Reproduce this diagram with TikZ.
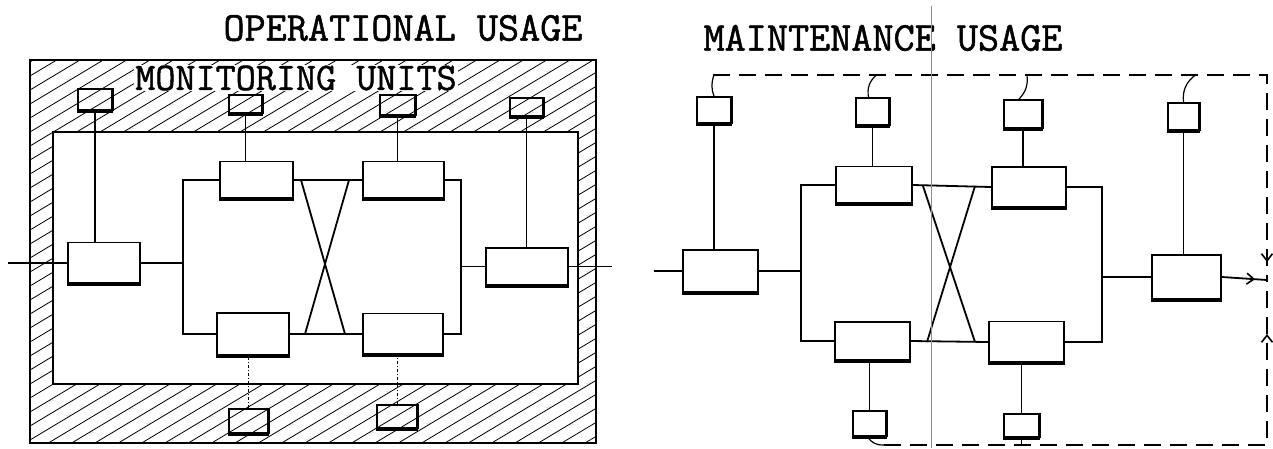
\documentclass[tikz,border=0pt]{standalone}
\usepackage{fontspec}
\newfontfamily\typewr[FakeBold=1.2]{Latin Modern Mono}
\usetikzlibrary{arrows.meta, decorations.markings}

\tikzset{
  blk/.style={draw, line width=1.8pt, inner sep=0pt},
  wire/.style={line width=1.8pt},
  tap/.style={line width=1.2pt},
  probe/.style={line width=1pt, dash dot},
  bus/.style={line width=2.4pt, dash pattern=on 17pt off 9pt},
  hatch/.style={line width=0.8pt},
  heading/.style={font=\typewr\fontsize{41}{41}\selectfont, inner sep=0pt},
  tipmark/.style={postaction={decorate}, decoration={markings,
      mark=at position #1 with {\arrow[line width=1.6pt]{Straight Barb[length=7pt,width=11pt]}}}},
}

\begin{document}
\begin{tikzpicture}[x=1pt, y=-1pt]
        \useasboundingbox (0,0) rectangle (1273,448);
%	operational usage: hatched casing
        \begin{scope}[even odd rule]
          \clip (30,60) rectangle (596,443) (53,132) rectangle (578,384);
          \foreach \c in {40,54,...,800}
            \draw[hatch] (20,\c) -- (610,\c-354);
        \end{scope}
        \draw[line width=2pt] (30,60) rectangle (596,443);
        \draw[line width=2pt] (53,132) rectangle (578,384);

        \node[heading] (opT) at (403,28) {OPERATIONAL USAGE};
        \node[heading, font=\typewr\fontsize{39}{39}\selectfont, fill=white, inner sep=1pt] (monT) at (296,78) {MONITORING UNITS};
        \node[heading] (mtT) at (883,38) {MAINTENANCE USAGE};

%	operational usage: blocks
        \node[blk, minimum width=72pt, minimum height=41pt] (inL) at (104,263) {};
        \node[blk, minimum width=73pt, minimum height=37pt] (ulL) at (256.5,180) {};
        \node[blk, minimum width=81pt, minimum height=37pt] (urL) at (403.5,180) {};
        \node[blk, minimum width=72pt, minimum height=42pt] (llL) at (253,334) {};
        \node[blk, minimum width=80pt, minimum height=41pt] (lrL) at (403,334) {};
        \node[blk, minimum width=82pt, minimum height=37pt] (outL) at (527,266.5) {};
        \node[blk, minimum width=34pt, minimum height=21pt] (m1L) at (95,99.5) {};
        \node[blk, minimum width=33pt, minimum height=18pt] (m2L) at (245.5,104) {};
        \node[blk, minimum width=35pt, minimum height=20pt] (m3L) at (397.5,105) {};
        \node[blk, minimum width=33pt, minimum height=18pt] (m4L) at (526.5,107) {};
        \node[blk, minimum width=39pt, minimum height=24pt] (m5L) at (248.5,421) {};
        \node[blk, minimum width=40pt, minimum height=23pt] (m6L) at (397,416.5) {};

        \coordinate (jLL) at (183,0);
        \coordinate (jRL) at (461,0);
        \coordinate (srcL) at (8,263);
        \coordinate (dstL) at (612,266.5);
        \coordinate (xaL) at (301,180);
        \coordinate (xbL) at (349,180);
        \coordinate (xcL) at (305,334);
        \coordinate (xdL) at (345,334);

        \draw[wire] (srcL) -- (inL.west);
        \draw[wire] (inL.east) -- (inL.east -| jLL);
        \draw[wire] (ulL.west) -- (ulL.west -| jLL) -- (jLL |- llL.west) -- (llL.west);
        \draw[wire] (urL.east) -- (urL.east -| jRL) -- (jRL |- lrL.east) -- (lrL.east);
        \draw[wire] (jRL |- outL.west) -- (outL.west);
        \draw[wire] (outL.east) -- (dstL);
        \draw[wire] (ulL.east) -- (urL.west);
        \draw[wire] (llL.east) -- (lrL.west);
        \draw[wire] (xaL) -- (xdL) (xbL) -- (xcL);
        \draw[tap] (m1L.south) -- (m1L.south |- inL.north);
        \draw[tap] (m2L.south) -- (m2L.south |- ulL.north);
        \draw[tap] (m3L.south) -- (m3L.south |- urL.north);
        \draw[tap] (m4L.south) -- (m4L.south |- outL.north);
        \draw[probe] (m5L.north) -- (m5L.north |- llL.south);
        \draw[probe] (m6L.north) -- (m6L.north |- lrL.south);

%	maintenance usage: blocks
        \node[blk, minimum width=75pt, minimum height=42pt] (inR) at (720.5,271) {};
        \node[blk, minimum width=76pt, minimum height=37pt] (ulR) at (874,185) {};
        \node[blk, minimum width=74pt, minimum height=40pt] (urR) at (1029,187) {};
        \node[blk, minimum width=75pt, minimum height=38pt] (llR) at (872.5,341) {};
        \node[blk, minimum width=75pt, minimum height=41pt] (lrR) at (1026.5,342) {};
        \node[blk, minimum width=69pt, minimum height=44pt] (outR) at (1186.5,277) {};
        \node[blk, minimum width=34pt, minimum height=26pt] (m1R) at (714,110) {};
        \node[blk, minimum width=33pt, minimum height=27pt] (m2R) at (872.5,111.5) {};
        \node[blk, minimum width=38pt, minimum height=28pt] (m3R) at (1023,114) {};
        \node[blk, minimum width=31pt, minimum height=27pt] (m4R) at (1183.5,116.5) {};
        \node[blk, minimum width=33pt, minimum height=25pt] (m5R) at (869.5,423.5) {};
        \node[blk, minimum width=35pt, minimum height=23pt] (m6R) at (1021.5,425.5) {};

        \coordinate (jLR) at (801,0);
        \coordinate (jRR) at (1102,0);
        \coordinate (srcR) at (654,271);
        \coordinate (xaR) at (923,186);
        \coordinate (xbR) at (975,186);
        \coordinate (xcR) at (927,342);
        \coordinate (xdR) at (975,342);
        \coordinate (busTL) at (713,75);
        \coordinate (busTR) at (1267,75);
        \coordinate (busBL) at (884,445);
        \coordinate (busBR) at (1267,445);
        \coordinate (busOut) at (1267,280);

        \draw[wire] (srcR) -- (inR.west);
        \draw[wire] (inR.east) -- (inR.east -| jLR);
        \draw[wire] (ulR.west) -- (ulR.west -| jLR) -- (jLR |- llR.west) -- (llR.west);
        \draw[wire] (urR.east) -- (urR.east -| jRR) -- (jRR |- lrR.east) -- (lrR.east);
        \draw[wire] (jRR |- outR.west) -- (outR.west);
        \draw[wire] (ulR.east) -- (urR.west);
        \draw[wire] (llR.east) -- (lrR.west);
        \draw[wire] (xaR) -- (xdR) (xbR) -- (xcR);
        \draw[wire, tipmark=-12pt] (outR.east) -- (busOut);
        \draw[tap] (m1R.south) -- (m1R.south |- inR.north);
        \draw[tap] (m2R.south) -- (m2R.south |- ulR.north);
        \draw[tap] (m3R.south) -- (m3R.south |- urR.north);
        \draw[tap] (m4R.south) -- (m4R.south |- outR.north);
        \draw[tap] (m5R.north) -- (m5R.north |- llR.south);
        \draw[tap] (m6R.north) -- (m6R.north |- lrR.south);

%	maintenance bus
        \draw[bus, tipmark=-18pt] (busTL) -- (busTR) -- (busOut);
        \draw[bus, tipmark=-54pt] (busBL) -- (busBR) -- (busOut);
        \draw[tap] (m1R.north) to[bend left=20] (m1R.north |- busTL);
        \draw[tap] ([xshift=-4pt]m2R.north) to[bend left=30] ([xshift=4pt]m2R.north |- busTL);
        \draw[tap] ([xshift=-4pt]m3R.north) to[bend right=25] ([xshift=4pt]m3R.north |- busTL);
        \draw[tap] (m4R.north) to[bend left=30] ([xshift=12pt]m4R.north |- busTL);
        \draw[tap] ([xshift=-2pt]m5R.south) to[bend right=30] (busBL);
        \draw[tap] (m6R.south) -- (m6R.south |- busBL);

%	shadowed edges
        \foreach \b in {inL,ulL,urL,llL,lrL,outL,m1L,m2L,m3L,m4L,m5L,m6L,
                        inR,ulR,urR,llR,lrR,outR,m1R,m2R,m3R,m4R,m5R,m6R}
          \draw[line width=4pt] (\b.south west) -- (\b.south east);
        \foreach \b in {m1L,m2L,m3L,m4L,m5L,m6L,m1R,m2R,m3R,m4R,m5R,m6R}
          \draw[line width=3pt] (\b.north east) -- (\b.south east);

%	fold line of the scan
        \draw[black!45, line width=0.7pt] (931,6) -- (931,448);
\end{tikzpicture}
\end{document}
